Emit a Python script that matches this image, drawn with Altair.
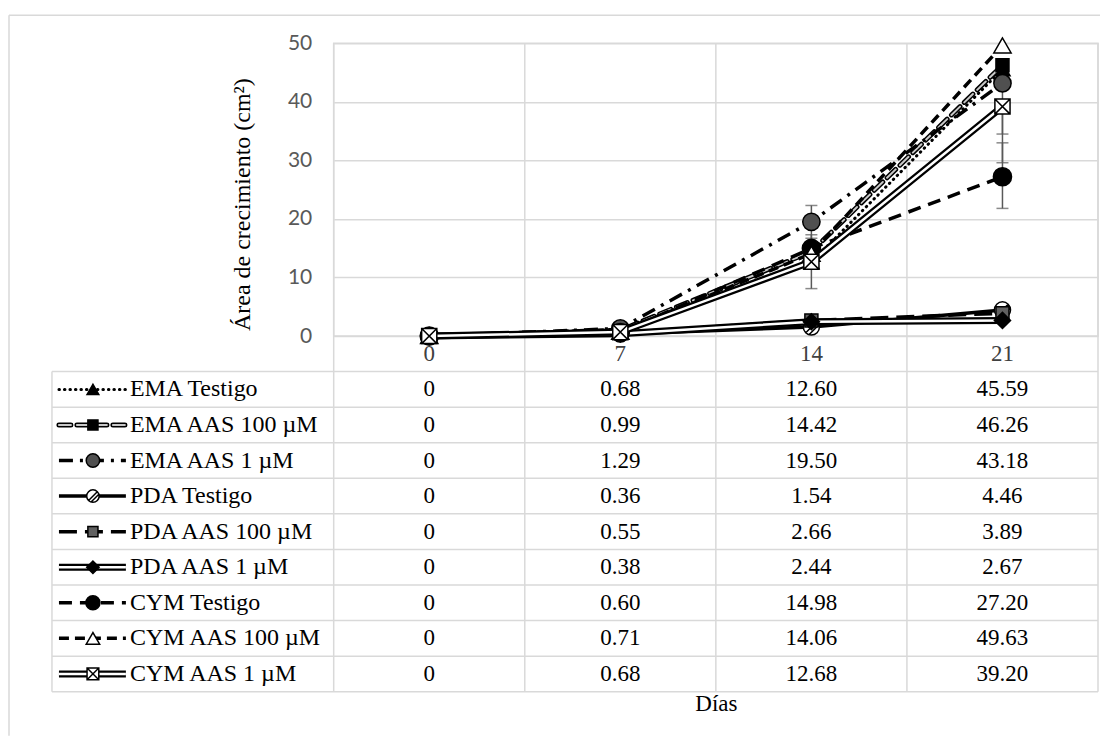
import altair as alt
import pandas as pd

# ---------------- data ----------------
days = [0, 7, 14, 21]
series = ["EMA Testigo", "EMA AAS 100 µM", "EMA AAS 1 µM", "PDA Testigo",
          "PDA AAS 100 µM", "PDA AAS 1 µM", "CYM Testigo", "CYM AAS 100 µM",
          "CYM AAS 1 µM"]
ema_testigo = [0, 0.68, 12.60, 45.59]
ema_aas_100 = [0, 0.99, 14.42, 46.26]
ema_aas_1 = [0, 1.29, 19.50, 43.18]
pda_testigo = [0, 0.36, 1.54, 4.46]
pda_aas_100 = [0, 0.55, 2.66, 3.89]
pda_aas_1 = [0, 0.38, 2.44, 2.67]
cym_testigo = [0, 0.60, 14.98, 27.20]
cym_aas_100 = [0, 0.71, 14.06, 49.63]
cym_aas_1 = [0, 0.68, 12.68, 39.20]
values = [ema_testigo, ema_aas_100, ema_aas_1, pda_testigo, pda_aas_100,
          pda_aas_1, cym_testigo, cym_aas_100, cym_aas_1]

# visible error bars (estimated)
err_series = ["EMA AAS 1 µM", "CYM AAS 1 µM", "CYM Testigo", "EMA AAS 1 µM", "CYM AAS 1 µM"]
err_day = [14, 14, 21, 21, 21]
err_low = [16.7, 8.1, 21.8, 29.6, 34.5]
err_high = [22.3, 17.3, 33.0, 43.18, 39.20]

y_ticks = [0, 10, 20, 30, 40, 50]
x_title = "Días"
y_title = "Área de crecimiento (cm²)"

# ---------------- layout / style ----------------
W, H = 765, 293
ROW_H = 35.6
N_ROWS = len(series) + 1
TABLE_BOTTOM = H + N_ROWS * ROW_H
LEG_LEFT = -282
SERIF = "Liberation Serif"
TXT = 24

SQX = "M-1,-1L1,-1L1,1L-1,1Z M-1,-1L1,1 M1,-1L-1,1"
CIRC_HATCH = "M-1,0A1,1 0 1,1 1,0A1,1 0 1,1 -1,0Z M-0.7,0.7L0.7,-0.7 M-0.3,0.95L0.95,-0.3"

styles = {
    "EMA Testigo": dict(layers=[dict(color="black", width=3, dash=[0.5, 5], cap="round")],
                        shape="triangle-up", fill="black", size=230),
    "EMA AAS 100 µM": dict(layers=[dict(color="black", width=5, dash=[12, 6], cap="round"),
                                   dict(color="#c8c8c8", width=2, dash=[12, 6], cap="round")],
                           shape="square", fill="black", size=170),
    "EMA AAS 1 µM": dict(layers=[dict(color="black", width=3.5, dash=[14, 7, 3, 7])],
                         shape="circle", fill="#505050", size=300),
    "PDA Testigo": dict(layers=[dict(color="black", width=3.5)],
                        shape=CIRC_HATCH, fill="white", size=260),
    "PDA AAS 100 µM": dict(layers=[dict(color="black", width=3.5, dash=[18, 8])],
                           shape="square", fill="#606060", size=170),
    "PDA AAS 1 µM": dict(layers=[dict(color="black", width=7), dict(color="white", width=2.5)],
                         shape="diamond", fill="black", size=260),
    "CYM Testigo": dict(layers=[dict(color="black", width=3.5, dash=[13, 8])],
                        shape="circle", fill="black", size=330),
    "CYM AAS 100 µM": dict(layers=[dict(color="black", width=3.5, dash=[10, 6])],
                           shape="triangle-up", fill="white", size=300),
    "CYM AAS 1 µM": dict(layers=[dict(color="black", width=7), dict(color="white", width=2.5)],
                         shape=SQX, fill="white", size=230),
}

# ---------------- frames ----------------
plot_df = pd.DataFrame([
    {"series": s, "day": d, "value": v}
    for s, vals in zip(series, values) for d, v in zip(days, vals)
])
err_df = pd.DataFrame({"series": err_series, "day": err_day, "lo": err_low, "hi": err_high})

half = (days[1] - days[0]) / 2
bounds = [d - half for d in days] + [days[-1] + half]
vgrid_df = pd.DataFrame({"day": bounds})
hline_df = pd.DataFrame({"row": list(range(1, N_ROWS + 1))})
header_df = pd.DataFrame({"day": days, "row": [0.5] * len(days), "label": [str(d) for d in days]})
cell_df = pd.DataFrame([
    {"day": d, "row": i + 1.5, "label": ("0" if v == 0 else f"{v:.2f}")}
    for i, vals in enumerate(values) for d, v in zip(days, vals)
])
legend_df = pd.DataFrame({"series": series, "row": [i + 1.5 for i in range(len(series))]})
one = pd.DataFrame({"k": [0]})

x_scale = alt.Scale(domain=[bounds[0], bounds[-1]], nice=False, zero=False)
x_axis = alt.Axis(labels=False, ticks=False, domain=False, grid=False, title=x_title,
                  titleFont=SERIF, titleFontSize=TXT - 1, titleFontWeight="normal",
                  titleColor="black", titlePadding=357)
y_scale = alt.Scale(domain=[0, 50], nice=False, zero=True)
y_axis = alt.Axis(orient="left", values=y_ticks, grid=True, gridColor="#d9d9d9", gridWidth=1.5,
                  domain=False, ticks=False, labelFont="Lato", labelFontSize=21,
                  labelColor="#595959", labelPadding=22, title=y_title, titleFont=SERIF,
                  titleFontSize=24, titleFontWeight="normal", titleColor="black",
                  titlePadding=33, titleY=161)
t_scale = alt.Scale(domain=[0, N_ROWS], range=[H, TABLE_BOTTOM], nice=False, zero=False)


def X(field="day"):
    return alt.X(f"{field}:Q", scale=x_scale, axis=x_axis)


def Y(field="value"):
    return alt.Y(f"{field}:Q", scale=y_scale, axis=y_axis)


def TY(field="row"):
    return alt.Y(f"{field}:Q", scale=t_scale, axis=None)


GRID = "#d9d9d9"

# ---------------- table layer ----------------
table_layers = [
    # outer frame (top and left edges)
    alt.Chart(one).mark_rule(color=GRID, strokeWidth=1.5).encode(
        x=alt.value(-325), x2=alt.value(W + 2), y=alt.value(-28)),
    alt.Chart(one).mark_rule(color=GRID, strokeWidth=1.5).encode(
        x=alt.value(-325), y=alt.value(-28), y2=alt.value(H + 400)),
    # vertical column lines
    alt.Chart(vgrid_df).mark_rule(color=GRID, strokeWidth=1.5).encode(
        x=X(), y=alt.value(0), y2=alt.value(TABLE_BOTTOM)),
    # horizontal table lines
    alt.Chart(hline_df).mark_rule(color=GRID, strokeWidth=1.5).encode(
        x=alt.value(LEG_LEFT), x2=alt.value(W), y=TY()),
    alt.Chart(pd.DataFrame({"row": [1], "row2": [N_ROWS]})).mark_rule(color=GRID, strokeWidth=1.5).encode(
        x=alt.value(LEG_LEFT), y=TY(), y2="row2:Q"),
    # day labels
    alt.Chart(header_df).mark_text(font=SERIF, fontSize=TXT - 1, color="#404040", baseline="middle").encode(
        x=X(), y=TY(), text="label:N"),
    # cell values
    alt.Chart(cell_df).mark_text(font=SERIF, fontSize=TXT - 1, color="black", baseline="middle").encode(
        x=X(), y=TY(), text="label:N"),
    # legend labels
    alt.Chart(legend_df).mark_text(font=SERIF, fontSize=TXT, color="black", align="left",
                                   baseline="middle").encode(
        x=alt.value(-204), y=TY(), text="series:N"),
]
for s in series:
    st = styles[s]
    sub = legend_df[legend_df["series"] == s]
    for ly in st["layers"]:
        kw = dict(color=ly["color"], strokeWidth=ly["width"])
        if "dash" in ly:
            kw["strokeDash"] = ly["dash"]
        if "cap" in ly:
            kw["strokeCap"] = ly["cap"]
        table_layers.append(alt.Chart(sub).mark_rule(**kw).encode(
            x=alt.value(-275), x2=alt.value(-208), y=TY()))
    table_layers.append(alt.Chart(sub).mark_point(
        shape=st["shape"], filled=True, fill=st["fill"], stroke="black", strokeWidth=1.5,
        size=st["size"] * 0.6, opacity=1).encode(x=alt.value(-241), y=TY()))

table_layer = alt.layer(*table_layers)

# ---------------- plot layer ----------------
plot_layers = [
    alt.Chart(err_df).mark_rule(color="#595959", strokeWidth=1.5).encode(
        x=X(), y=Y("lo"), y2="hi:Q"),
    alt.Chart(err_df).mark_tick(color="#595959", thickness=1.5, size=12, orient="horizontal").encode(
        x=X(), y=Y("lo")),
    alt.Chart(err_df).mark_tick(color="#595959", thickness=1.5, size=12, orient="horizontal").encode(
        x=X(), y=Y("hi")),
]
for s in series:
    st = styles[s]
    sub = plot_df[plot_df["series"] == s]
    for ly in st["layers"]:
        kw = dict(color=ly["color"], strokeWidth=ly["width"], strokeJoin="round")
        if "dash" in ly:
            kw["strokeDash"] = ly["dash"]
        if "cap" in ly:
            kw["strokeCap"] = ly["cap"]
        plot_layers.append(alt.Chart(sub).mark_line(**kw).encode(x=X(), y=Y()))
    plot_layers.append(alt.Chart(sub).mark_point(
        shape=st["shape"], filled=True, fill=st["fill"], stroke="black", strokeWidth=1.5,
        size=st["size"], opacity=1).encode(x=X(), y=Y()))

plot_layer = alt.layer(*plot_layers)

chart = alt.layer(table_layer, plot_layer).resolve_scale(y="independent").properties(
    width=W, height=H, background="white",
    padding={"left": 0, "top": 6, "right": 0, "bottom": 0},
).configure_view(stroke=GRID, strokeWidth=1.5)

chart.save("out.html", embed_options={"renderer": "svg", "actions": False})
